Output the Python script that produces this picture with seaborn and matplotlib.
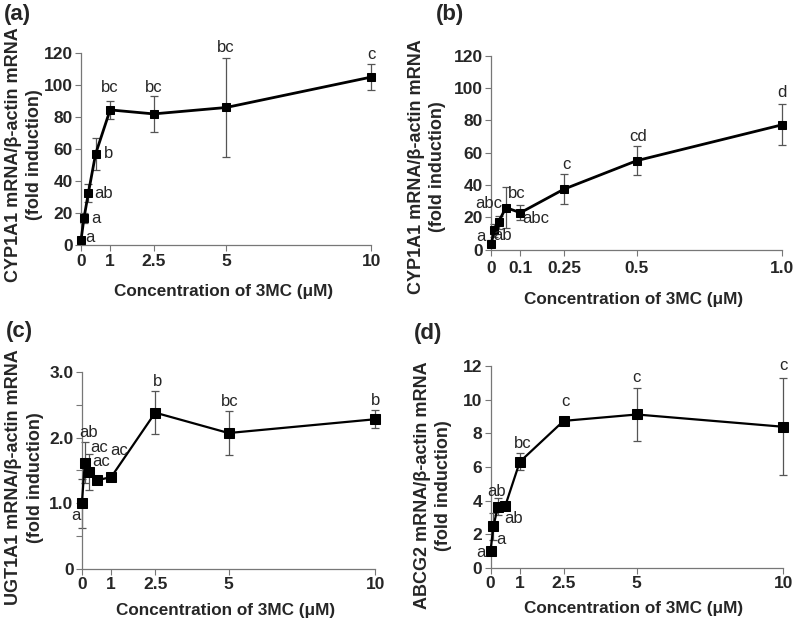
import matplotlib
matplotlib.use('Agg')
import matplotlib.pyplot as plt
import seaborn as sns

# concentrations (uM)
conc_main = [0, 0.1, 0.25, 0.5, 1, 2.5, 5, 10]
conc_low = [0, 0.01, 0.025, 0.05, 0.1, 0.25, 0.5, 1.0]

# (a) CYP1A1, 0-10 uM
cyp_high = [3.5, 17, 32.5, 57, 84.5, 82, 86, 105]
cyp_high_err = [1, 3, 5.5, 10, 5.5, 11, 31, 8]
cyp_high_sig = ['a', 'a', 'ab', 'b', 'bc', 'bc', 'bc', 'c']

# (b) CYP1A1, 0-1 uM
cyp_low = [3.7, 12, 17, 26, 22.8, 37.4, 55, 77.2]
cyp_low_err = [2, 4, 4, 12.5, 4.5, 9.3, 9, 12.7]
cyp_low_sig = ['a', 'ab', 'abc', 'bc', 'abc', 'c', 'cd', 'd']

# (c) UGT1A1
ugt = [1.0, 1.62, 1.48, 1.35, 1.40, 2.38, 2.07, 2.28]
ugt_err = [0.37, 0.31, 0.27, 0.05, 0.03, 0.33, 0.33, 0.14]
ugt_sig = ['a', 'ab', 'ac', 'ac', 'ac', 'b', 'bc', 'b']

# (d) ABCG2
abcg2 = [1.0, 2.48, 3.63, 3.67, 6.31, 8.75, 9.13, 8.4]
abcg2_err = [0.15, 0.8, 0.5, 0.1, 0.5, 0.15, 1.55, 2.9]
abcg2_sig = ['a', 'a', 'ab', 'ab', 'bc', 'c', 'c', 'c']

main_ticks = [0, 1, 2.5, 5, 10]
main_ticklabels = ['0', '1', '2.5', '5', '10']
low_ticks = [0, 0.1, 0.25, 0.5, 1.0]
low_ticklabels = ['0', '0.1', '0.25', '0.5', '1.0']

sns.set_style('ticks')
plt.rcParams['font.family'] = ['Liberation Sans', 'DejaVu Sans']

fig = plt.figure(figsize=(7.95, 6.24), dpi=100)

# label offsets in pixels (dx, dy) from each point
off_a = [(9, 2), (12, 0), (15, 0), (13, 0), (0, 22), (0, 26), (0, 60), (0, 23)]
off_b = [(-10, 7), (8, -5), (-10, 19), (11, 14), (15, -6), (2, 25), (1, 24), (0, 32)]
off_c = [(-6, -12), (4, 30), (10, 24), (5, 19), (8, 27), (2, 31), (1, 32), (0, 19)]
off_d = [(-10, -1), (7, -13), (-1, 15), (8, -12), (3, 18), (2, 19), (0, 37), (0, 61)]

panels = [
    dict(pos=[0.102, 0.607, 0.365, 0.308], x=conc_main, y=cyp_high, err=cyp_high_err,
         sig=cyp_high_sig, off=off_a, xt=main_ticks, xtl=main_ticklabels, xlim=(0, 10),
         ylim=(0, 120), yt=list(range(0, 121, 20)), ytl=[str(v) for v in range(0, 121, 20)],
         ylabel='CYP1A1 mRNA/β-actin mRNA\n(fold induction)', ms=5.5, lw=2, tag='(a)',
         tagxy=(0.022, 0.977), ylc=(-0.13, 0.47), xlc=-0.2, pad=2),
    dict(pos=[0.618, 0.600, 0.366, 0.311], x=conc_low, y=cyp_low, err=cyp_low_err,
         sig=cyp_low_sig, off=off_b, xt=low_ticks, xtl=low_ticklabels, xlim=(0, 1.0),
         ylim=(0, 120), yt=list(range(0, 121, 20)), ytl=[str(v) for v in range(0, 121, 20)],
         ylabel='CYP1A1 mRNA/β-actin mRNA\n(fold induction)', ms=5.8, lw=2, tag='(b)',
         tagxy=(0.566, 0.976), ylc=(-0.155, 0.43), xlc=-0.22, pad=4),
    dict(pos=[0.103, 0.088, 0.369, 0.316], x=conc_main, y=ugt, err=ugt_err,
         sig=ugt_sig, off=off_c, xt=main_ticks, xtl=main_ticklabels, xlim=(0, 10),
         ylim=(0, 3.0), yt=[0, 1, 2, 3], ytl=['0', '1.0', '2.0', '3.0'],
         ylabel='UGT1A1 mRNA/β-actin mRNA\n(fold induction)', ms=7.3, lw=1.6, tag='(c)',
         tagxy=(0.025, 0.468), ylc=(-0.13, 0.465), xlc=-0.17, pad=2),
    dict(pos=[0.617, 0.090, 0.368, 0.323], x=conc_main, y=abcg2, err=abcg2_err,
         sig=abcg2_sig, off=off_d, xt=main_ticks, xtl=main_ticklabels, xlim=(0, 10),
         ylim=(0, 12), yt=list(range(0, 13, 2)), ytl=[str(v) for v in range(0, 13, 2)],
         ylabel='ABCG2 mRNA/β-actin mRNA\n(fold induction)', ms=7, lw=1.6, tag='(d)',
         tagxy=(0.538, 0.465), ylc=(-0.13, 0.41), xlc=-0.165, pad=2),
]

for p in panels:
    ax = fig.add_axes(p['pos'])
    ax.errorbar(p['x'], p['y'], yerr=p['err'], fmt='none', ecolor='#555555',
                elinewidth=0.9, capsize=3, capthick=0.9, clip_on=False, zorder=2)
    sns.lineplot(x=p['x'], y=p['y'], ax=ax, color='black', linewidth=p['lw'],
                 marker='s', markersize=p['ms'], markeredgecolor='black',
                 clip_on=False, zorder=3)
    for xv, yv, s, (dx, dy) in zip(p['x'], p['y'], p['sig'], p['off']):
        ax.annotate(s, (xv, yv), xytext=(dx, dy), textcoords='offset pixels',
                    ha='center', va='center', fontsize=12, annotation_clip=False)

    ax.set_xlim(p['xlim'])
    ax.set_ylim(p['ylim'])
    ax.set_xticks(p['xt'])
    ax.set_xticklabels(p['xtl'], fontweight='bold', fontsize=12.5)
    ax.set_yticks(p['yt'])
    ax.set_yticklabels(p['ytl'], fontweight='bold', fontsize=12.5)
    if p['tag'] == '(c)':
        ax.set_yticks([0.5, 1.5, 2.5], minor=True)
        ax.tick_params(axis='y', which='minor', length=4, width=0.8, color='#777777')
    ax.tick_params(axis='both', which='major', length=4, width=0.8, color='#777777', pad=2)
    ax.tick_params(axis='x', pad=p['pad'])
    sns.despine(ax=ax)
    for side in ['left', 'bottom']:
        ax.spines[side].set_color('#777777')
        ax.spines[side].set_linewidth(0.9)

    ax.set_xlabel('Concentration of 3MC (μM)', fontweight='bold', fontsize=12.3)
    ax.xaxis.set_label_coords(0.49, p['xlc'])
    ax.set_ylabel(p['ylabel'], fontweight='bold', fontsize=13, linespacing=1.35)
    ax.yaxis.set_label_coords(p['ylc'][0], p['ylc'][1])

    fig.text(p['tagxy'][0], p['tagxy'][1], p['tag'], fontsize=16, fontweight='bold',
             ha='center', va='center')

fig.savefig('out.png', dpi=100)
